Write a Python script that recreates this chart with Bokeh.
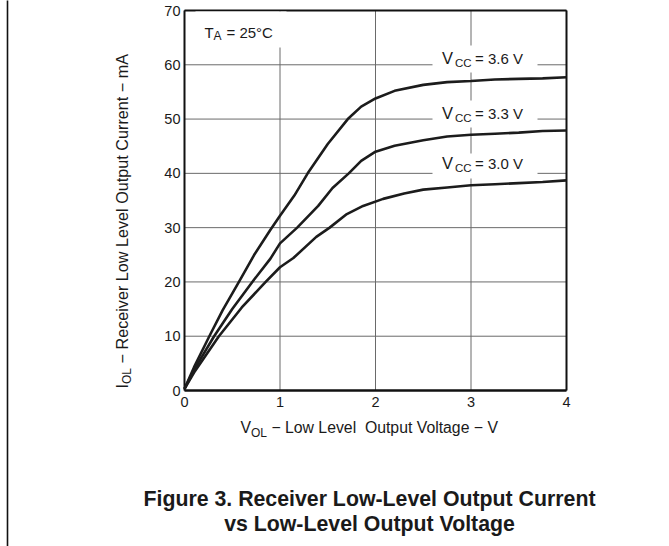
from bokeh.plotting import figure
from bokeh.models import Range1d, FixedTicker, Label, BoxAnnotation
from bokeh.embed import file_html
from bokeh.resources import INLINE
import math

# ---- data ----
vol_36 = [0, 0.1, 0.26, 0.4, 0.57, 0.73, 0.9, 1.0, 1.15, 1.29, 1.5, 1.71, 1.85, 2.0, 2.2, 2.5, 2.75, 3.0, 3.25, 3.5, 3.75, 4.0]
iol_36 = [0.3, 4.3, 10, 14.8, 20, 25, 29.6, 32.2, 35.9, 40, 45.4, 50, 52.3, 53.8, 55.2, 56.3, 56.8, 57.0, 57.3, 57.4, 57.5, 57.7]
vol_33 = [0, 0.1, 0.31, 0.5, 0.71, 0.9, 1.0, 1.18, 1.4, 1.55, 1.72, 1.85, 2.0, 2.2, 2.5, 2.75, 3.0, 3.25, 3.5, 3.75, 4.0]
iol_33 = [0.3, 3.8, 10, 15, 20, 24.3, 27.1, 30, 34, 37.3, 40, 42.3, 44, 45.1, 46.1, 46.8, 47.1, 47.3, 47.5, 47.8, 47.9]
vol_30 = [0, 0.1, 0.36, 0.6, 0.85, 1.0, 1.14, 1.38, 1.52, 1.7, 1.87, 2.08, 2.3, 2.5, 2.75, 3.0, 3.25, 3.5, 3.75, 4.0]
iol_30 = [0.3, 3.3, 10, 15.3, 20, 22.7, 24.4, 28.3, 30, 32.5, 34, 35.3, 36.3, 37.0, 37.4, 37.8, 38.0, 38.2, 38.4, 38.7]
x_ticks = [0, 1, 2, 3, 4]
y_ticks = [0, 10, 20, 30, 40, 50, 60, 70]

FONT = "Liberation Sans"
TXT = "#1a1a1a"
W, H = 669, 546
NB = "\u00a0"

# the frame fills the whole canvas; the chart box (0..4 x 0..70) sits at these canvas pixels
BX0, BX1, BY0, BY1 = 184, 566, 10, 390
XMIN, XMAX = x_ticks[0], x_ticks[-1]
YMIN, YMAX = y_ticks[0], y_ticks[-1]
def dx(px):
    return XMIN + (px - BX0) / (BX1 - BX0) * (XMAX - XMIN)
def dy(py):
    return YMIN + (BY1 - py) / (BY1 - BY0) * (YMAX - YMIN)

p = figure(width=W, height=H, output_backend="svg", toolbar_location=None,
           x_range=Range1d(dx(0), dx(W)), y_range=Range1d(dy(H), dy(0)),
           min_border=0)
p.outline_line_color = None
p.background_fill_color = "white"
p.border_fill_color = "white"
p.grid.visible = False

p.xaxis.ticker = FixedTicker(ticks=x_ticks)
p.yaxis.ticker = FixedTicker(ticks=y_ticks)
p.xaxis.fixed_location = YMIN
p.yaxis.fixed_location = XMIN
for ax in (p.xaxis[0], p.yaxis[0]):
    ax.major_tick_out = 0
    ax.major_tick_in = 0
    ax.minor_tick_out = 0
    ax.minor_tick_in = 0
    ax.axis_line_color = None
    ax.major_label_text_font = FONT
    ax.major_label_text_font_size = "14.5px"
    ax.major_label_text_color = TXT
p.xaxis.major_label_standoff = 6
p.yaxis.major_label_standoff = 4

# grid lines from the tick values
GRID = "#6a6a6a"
p.segment(x0=x_ticks, y0=[YMIN] * len(x_ticks), x1=x_ticks, y1=[YMAX] * len(x_ticks),
          line_color=GRID, line_width=1)
p.segment(x0=[XMIN] * len(y_ticks), y0=y_ticks, x1=[XMAX] * len(y_ticks), y1=y_ticks,
          line_color=GRID, line_width=1)
# chart box
p.segment(x0=[XMIN, XMAX, XMIN], y0=[YMIN, YMIN, YMAX], x1=[XMIN, XMAX, XMAX], y1=[YMAX, YMAX, YMAX],
          line_color="#111111", line_width=2)
p.segment(x0=[XMIN], y0=[YMIN], x1=[XMAX], y1=[YMIN], line_color="#111111", line_width=2.6)

for xs, ys in ((vol_36, iol_36), (vol_33, iol_33), (vol_30, iol_30)):
    p.line(xs, ys, line_color="#1c1c1c", line_width=2.6, line_join="round")

# page border line on the left
p.segment(x0=[dx(7)], y0=[dy(H + 5)], x1=[dx(7)], y1=[dy(-5)], line_color="#111111", line_width=1.6)

# white patches behind in-plot annotations
for (l, r, t, b) in ((195, 286, 11, 47), (432, 537, 45, 72), (432, 537, 100, 127), (432, 537, 153, 178)):
    p.add_layout(BoxAnnotation(left=dx(l), right=dx(r), top=dy(t), bottom=dy(b),
                               fill_color="white", fill_alpha=1.0, line_color=None))

def lab(px, py, text, size, angle=0.0, bold=False, align="left"):
    # (px, py): start of the text on its baseline, in canvas pixels; anchored at cap middle
    s = float(size.replace("px", ""))
    if angle:
        px -= 0.358 * s
    else:
        py -= 0.358 * s
    p.add_layout(Label(x=dx(px), y=dy(py), text=text, text_font=FONT, text_font_size=size,
                       text_color=TXT, text_baseline="middle", text_align=align, angle=angle,
                       text_font_style="bold" if bold else "normal"))

# T_A = 25°C
lab(204, 37, "T", "15px")
lab(213, 40, "A", "12px")
lab(226, 37, "= 25°C", "15px")

# Vcc labels
for base, txt in ((63.5, "= 3.6 V"), (118.5, "= 3.3 V"), (168.3, "= 3.0 V")):
    lab(441.5, base, "V", "16.5px")
    lab(454.5, base + 3.6, "CC", "11.5px")
    lab(474.5, base, txt, "15px")

# x axis label
lab(240, 432.7, "V", "15.8px")
lab(250.5, 436.5, "OL", "12px")
lab(266.5, 432.7, NB + "\u2212 Low Level" + NB + " Output Voltage \u2212 V", "15.8px")

# y axis label (rotated)
A = math.pi / 2
lab(127, 388, "I", "16.2px", angle=A)
lab(131, 383.5, "OL", "12px", angle=A)
lab(127, 367.5, NB + "\u2212 Receiver Low Level Output Current \u2212 mA", "16.2px", angle=A)

# caption
lab(369, 506.5, "Figure 3. Receiver Low-Level Output Current", "21.3px", bold=True, align="center")
lab(369, 531.3, "vs Low-Level Output Voltage", "21.3px", bold=True, align="center")

open("out.html", "w").write(file_html(p, INLINE))
